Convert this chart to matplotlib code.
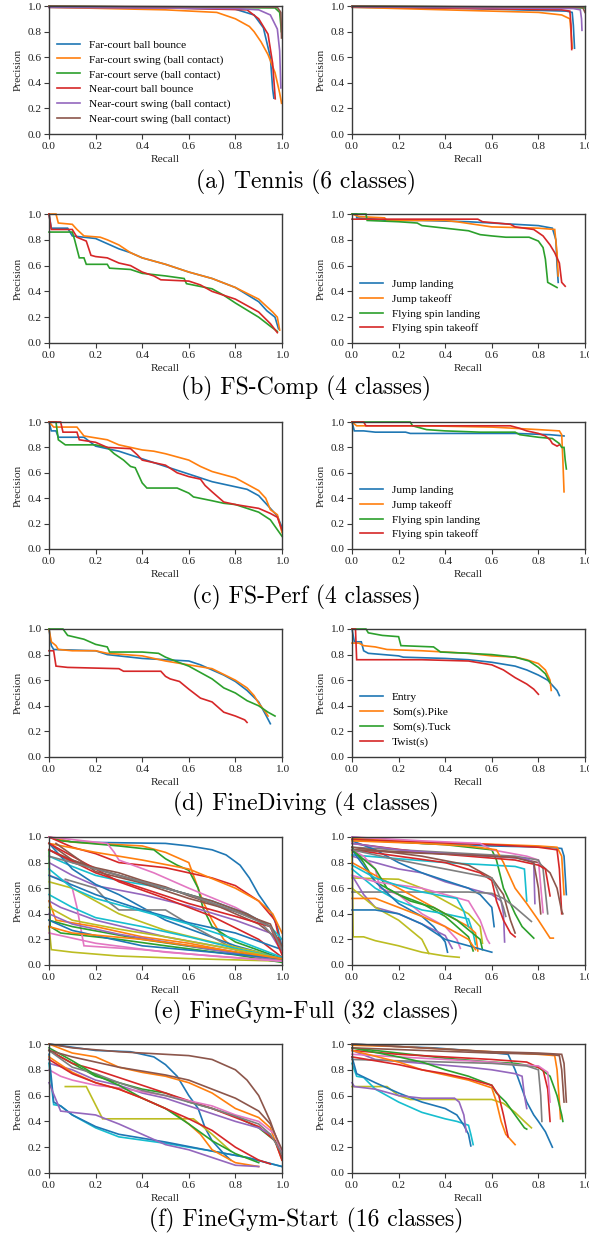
import matplotlib
matplotlib.use("Agg")
import matplotlib.pyplot as plt

TAB10 = ['#1f77b4', '#ff7f0e', '#2ca02c', '#d62728', '#9467bd',
         '#8c564b', '#e377c2', '#7f7f7f', '#bcbd22', '#17becf']

TENNIS_LABELS = ["Far-court ball bounce", "Far-court swing (ball contact)",
                 "Far-court serve (ball contact)", "Near-court ball bounce",
                 "Near-court swing (ball contact)", "Near-court swing (ball contact)"]
FS_LABELS = ["Jump landing", "Jump takeoff", "Flying spin landing", "Flying spin takeoff"]
DIVE_LABELS = ["Entry", "Som(s).Pike", "Som(s).Tuck", "Twist(s)"]

CAPTIONS = ["(a) Tennis (6 classes)", "(b) FS-Comp (4 classes)", "(c) FS-Perf (4 classes)",
            "(d) FineDiving (4 classes)", "(e) FineGym-Full (32 classes)",
            "(f) FineGym-Start (16 classes)"]

# ---------------- (a) Tennis ----------------
TENNIS_L = [
    [(0,0.99),(0.5,0.985),(0.8,0.975),(0.88,0.93),(0.92,0.83),(0.95,0.6),(0.96,0.35),(0.965,0.28)],
    [(0,0.99),(0.5,0.97),(0.72,0.95),(0.8,0.9),(0.86,0.84),(0.88,0.8),(0.91,0.72),(0.94,0.62),(0.97,0.48),(0.99,0.32),(0.998,0.24)],
    [(0,1.0),(0.5,0.99),(0.97,0.985),(0.99,0.95),(0.995,0.85),(0.997,0.8)],
    [(0,0.99),(0.5,0.985),(0.85,0.97),(0.9,0.9),(0.94,0.78),(0.96,0.55),(0.97,0.3),(0.971,0.275)],
    [(0,0.99),(0.8,0.98),(0.9,0.97),(0.95,0.93),(0.98,0.82),(0.99,0.65),(0.995,0.36)],
    [(0,1.0),(0.98,0.99),(0.995,0.95),(0.998,0.75)],
]
TENNIS_R = [
    [(0,0.99),(0.5,0.98),(0.92,0.96),(0.945,0.95),(0.95,0.85),(0.955,0.67)],
    [(0,0.99),(0.3,0.975),(0.6,0.96),(0.8,0.95),(0.9,0.93),(0.935,0.9),(0.94,0.8),(0.945,0.67)],
    [(0,1.0),(0.99,0.985),(1.0,0.985)],
    [(0,0.995),(0.9,0.97),(0.935,0.96),(0.94,0.85),(0.943,0.66)],
    [(0,0.995),(0.95,0.98),(0.98,0.97),(0.985,0.9),(0.987,0.81)],
    [(0,1.0),(0.99,0.99),(1.0,0.95)],
]
# ---------------- (b) FS-Comp ----------------
FSCOMP_L = [
    [(0,1.0),(0.01,0.89),(0.08,0.89),(0.1,0.83),(0.2,0.81),(0.25,0.77),(0.3,0.73),(0.35,0.7),(0.4,0.66),(0.5,0.61),(0.6,0.55),(0.7,0.5),(0.8,0.43),(0.9,0.32),(0.935,0.25),(0.97,0.2),(0.985,0.11)],
    [(0,1.0),(0.03,1.0),(0.04,0.93),(0.1,0.92),(0.12,0.88),(0.15,0.83),(0.22,0.82),(0.25,0.8),(0.3,0.76),(0.35,0.7),(0.4,0.66),(0.5,0.61),(0.6,0.55),(0.7,0.5),(0.8,0.43),(0.9,0.34),(0.96,0.24),(0.98,0.2),(0.99,0.1)],
    [(0,0.86),(0.1,0.86),(0.11,0.8),(0.13,0.66),(0.15,0.66),(0.16,0.61),(0.25,0.61),(0.26,0.58),(0.35,0.57),(0.4,0.54),(0.5,0.52),(0.58,0.5),(0.59,0.46),(0.7,0.42),(0.75,0.37),(0.8,0.31),(0.9,0.2),(0.95,0.13),(0.98,0.09)],
    [(0,1.0),(0.01,0.88),(0.1,0.88),(0.12,0.82),(0.16,0.79),(0.18,0.68),(0.2,0.67),(0.25,0.66),(0.3,0.62),(0.35,0.6),(0.4,0.55),(0.45,0.52),(0.48,0.49),(0.6,0.48),(0.65,0.45),(0.7,0.4),(0.8,0.34),(0.9,0.24),(0.95,0.15),(0.98,0.08)],
]
FSCOMP_R = [
    [(0,1.0),(0.02,1.0),(0.02,0.97),(0.1,0.96),(0.15,0.95),(0.3,0.95),(0.5,0.94),(0.6,0.93),(0.7,0.92),(0.8,0.91),(0.86,0.89),(0.875,0.8),(0.88,0.6),(0.885,0.47)],
    [(0,1.0),(0.03,0.98),(0.14,0.97),(0.15,0.95),(0.4,0.95),(0.45,0.94),(0.6,0.9),(0.8,0.89),(0.87,0.88),(0.88,0.7),(0.885,0.52)],
    [(0,1.0),(0.06,1.0),(0.065,0.95),(0.2,0.94),(0.28,0.93),(0.3,0.91),(0.4,0.89),(0.5,0.87),(0.55,0.84),(0.6,0.83),(0.66,0.82),(0.76,0.82),(0.8,0.79),(0.82,0.74),(0.83,0.65),(0.84,0.47),(0.86,0.45),(0.88,0.43)],
    [(0,0.96),(0.54,0.96),(0.56,0.94),(0.68,0.92),(0.7,0.9),(0.78,0.88),(0.82,0.83),(0.85,0.76),(0.87,0.7),(0.89,0.62),(0.9,0.47),(0.915,0.44)],
]
# ---------------- (c) FS-Perf ----------------
FSPERF_L = [
    [(0,1.0),(0.01,0.93),(0.03,0.93),(0.04,0.88),(0.15,0.88),(0.2,0.81),(0.3,0.77),(0.35,0.74),(0.4,0.71),(0.5,0.65),(0.55,0.62),(0.6,0.59),(0.7,0.53),(0.8,0.49),(0.85,0.47),(0.9,0.42),(0.95,0.32),(0.98,0.26),(1.0,0.17)],
    [(0,1.0),(0.02,0.96),(0.12,0.96),(0.15,0.89),(0.25,0.86),(0.3,0.82),(0.35,0.8),(0.4,0.78),(0.45,0.77),(0.5,0.75),(0.6,0.7),(0.65,0.65),(0.7,0.61),(0.8,0.56),(0.85,0.51),(0.9,0.46),(0.93,0.4),(0.95,0.31),(0.98,0.27),(1.0,0.13)],
    [(0,1.0),(0.03,1.0),(0.04,0.86),(0.07,0.82),(0.2,0.82),(0.25,0.8),(0.28,0.75),(0.32,0.7),(0.35,0.65),(0.37,0.64),(0.4,0.52),(0.42,0.48),(0.55,0.48),(0.6,0.44),(0.62,0.41),(0.7,0.38),(0.75,0.36),(0.8,0.35),(0.9,0.29),(0.95,0.23),(1.0,0.1)],
    [(0,1.0),(0.05,1.0),(0.06,0.92),(0.12,0.92),(0.13,0.86),(0.2,0.84),(0.25,0.8),(0.35,0.79),(0.38,0.74),(0.4,0.7),(0.45,0.68),(0.5,0.66),(0.55,0.6),(0.6,0.57),(0.65,0.55),(0.67,0.5),(0.7,0.45),(0.75,0.37),(0.8,0.35),(0.9,0.32),(0.95,0.28),(0.98,0.25),(1.0,0.15)],
]
FSPERF_R = [
    [(0,1.0),(0.01,0.93),(0.05,0.93),(0.1,0.92),(0.23,0.92),(0.25,0.91),(0.5,0.91),(0.7,0.91),(0.85,0.9),(0.91,0.89)],
    [(0,1.0),(0.02,0.97),(0.05,0.97),(0.3,0.97),(0.6,0.96),(0.7,0.95),(0.8,0.94),(0.89,0.93),(0.9,0.9),(0.905,0.7),(0.91,0.45)],
    [(0,1.0),(0.25,1.0),(0.26,0.97),(0.32,0.94),(0.4,0.93),(0.55,0.92),(0.7,0.92),(0.72,0.9),(0.8,0.88),(0.86,0.87),(0.89,0.83),(0.9,0.8),(0.91,0.8),(0.915,0.7),(0.92,0.63)],
    [(0,1.0),(0.05,1.0),(0.06,0.97),(0.3,0.97),(0.68,0.97),(0.72,0.95),(0.75,0.93),(0.8,0.91),(0.83,0.89),(0.85,0.86),(0.86,0.83),(0.88,0.81),(0.89,0.82)],
]
# ---------------- (d) FineDiving ----------------
DIVE_L = [
    [(0,1.0),(0.01,0.87),(0.02,0.84),(0.2,0.83),(0.25,0.8),(0.4,0.77),(0.5,0.76),(0.6,0.75),(0.65,0.72),(0.7,0.68),(0.75,0.64),(0.8,0.59),(0.85,0.52),(0.9,0.43),(0.93,0.33),(0.95,0.26)],
    [(0,1.0),(0.01,0.9),(0.03,0.87),(0.04,0.84),(0.1,0.83),(0.2,0.83),(0.25,0.81),(0.4,0.79),(0.5,0.75),(0.6,0.72),(0.7,0.69),(0.8,0.6),(0.85,0.54),(0.88,0.48),(0.9,0.42),(0.93,0.35),(0.94,0.32)],
    [(0,1.0),(0.06,1.0),(0.08,0.95),(0.15,0.92),(0.2,0.88),(0.25,0.86),(0.26,0.82),(0.4,0.82),(0.47,0.81),(0.5,0.78),(0.57,0.73),(0.6,0.71),(0.65,0.66),(0.7,0.61),(0.75,0.54),(0.8,0.5),(0.85,0.44),(0.9,0.4),(0.94,0.35),(0.97,0.32)],
    [(0,0.83),(0.02,0.83),(0.03,0.71),(0.08,0.7),(0.3,0.69),(0.32,0.67),(0.48,0.67),(0.5,0.63),(0.52,0.61),(0.56,0.59),(0.6,0.53),(0.65,0.46),(0.7,0.43),(0.75,0.35),(0.8,0.32),(0.84,0.29),(0.85,0.27)],
]
DIVE_R = [
    [(0,1.0),(0.01,0.9),(0.04,0.9),(0.05,0.83),(0.07,0.81),(0.2,0.79),(0.22,0.78),(0.4,0.77),(0.5,0.76),(0.6,0.74),(0.7,0.71),(0.75,0.68),(0.8,0.64),(0.84,0.6),(0.86,0.56),(0.88,0.52),(0.89,0.48)],
    [(0,0.89),(0.03,0.89),(0.05,0.87),(0.1,0.86),(0.15,0.84),(0.3,0.83),(0.4,0.82),(0.5,0.81),(0.6,0.79),(0.7,0.78),(0.75,0.76),(0.8,0.73),(0.83,0.68),(0.85,0.6),(0.855,0.52)],
    [(0,1.0),(0.06,1.0),(0.07,0.97),(0.13,0.95),(0.2,0.94),(0.21,0.87),(0.35,0.86),(0.38,0.82),(0.5,0.81),(0.6,0.8),(0.7,0.78),(0.76,0.75),(0.8,0.7),(0.83,0.65),(0.85,0.58)],
    [(0,1.0),(0.015,1.0),(0.02,0.76),(0.3,0.76),(0.5,0.75),(0.6,0.72),(0.65,0.68),(0.7,0.62),(0.75,0.57),(0.78,0.53),(0.8,0.49)],
]
# ---------------- (e) FineGym-Full (32 classes) ----------------
GYMFULL_L = [
    [(0,1.0),(0.1,0.96),(0.3,0.955),(0.5,0.95),(0.6,0.93),(0.7,0.9),(0.76,0.86),(0.82,0.78),(0.86,0.68),(0.9,0.55),(0.95,0.42),(0.98,0.3),(1.0,0.14)],
    [(0,1.0),(0.1,0.96),(0.4,0.93),(0.5,0.88),(0.6,0.8),(0.63,0.65),(0.66,0.5),(0.7,0.35),(0.75,0.2),(0.8,0.12),(1.0,0.05)],
    [(0,1.0),(0.05,0.97),(0.3,0.93),(0.45,0.9),(0.5,0.83),(0.55,0.78),(0.6,0.74),(0.64,0.6),(0.66,0.45),(0.7,0.3),(0.8,0.18),(1.0,0.05)],
    [(0,1.0),(0.1,0.92),(0.2,0.87),(0.3,0.8),(0.5,0.76),(0.7,0.68),(0.8,0.62),(0.9,0.5),(0.97,0.35),(1.0,0.1)],
    [(0,0.8),(0.1,0.7),(0.2,0.62),(0.4,0.55),(0.6,0.46),(0.8,0.35),(0.95,0.25),(1.0,0.1)],
    [(0,0.95),(0.1,0.82),(0.2,0.76),(0.3,0.72),(0.4,0.66),(0.5,0.61),(0.6,0.54),(0.7,0.48),(0.8,0.4),(0.9,0.32),(0.97,0.22),(1.0,0.1)],
    [(0,1.0),(0.1,0.98),(0.2,0.96),(0.25,0.95),(0.28,0.88),(0.3,0.82),(0.45,0.72),(0.6,0.6),(0.8,0.45),(0.95,0.3),(1.0,0.1)],
    [(0,0.9),(0.1,0.8),(0.2,0.75),(0.4,0.65),(0.6,0.55),(0.75,0.45),(0.9,0.35),(1.0,0.15)],
    [(0,0.3),(0.01,0.12),(0.1,0.1),(0.3,0.07),(0.6,0.05),(1.0,0.03)],
    [(0,0.85),(0.1,0.77),(0.2,0.7),(0.3,0.66),(0.5,0.6),(0.7,0.5),(0.85,0.4),(0.95,0.3),(1.0,0.2)],
    [(0,0.95),(0.1,0.75),(0.2,0.63),(0.3,0.55),(0.4,0.45),(0.5,0.35),(0.65,0.25),(0.8,0.15),(1.0,0.05)],
    [(0,0.95),(0.2,0.88),(0.4,0.82),(0.6,0.75),(0.8,0.6),(0.9,0.5),(0.96,0.4),(1.0,0.25)],
    [(0,0.9),(0.005,0.3),(0.05,0.25),(0.3,0.2),(0.5,0.15),(0.8,0.08),(1.0,0.02)],
    [(0,0.95),(0.15,0.8),(0.3,0.65),(0.5,0.52),(0.7,0.38),(0.9,0.2),(1.0,0.06)],
    [(0,0.5),(0.05,0.45),(0.2,0.35),(0.5,0.22),(0.8,0.12),(1.0,0.04)],
    [(0,0.9),(0.15,0.78),(0.3,0.7),(0.5,0.6),(0.7,0.5),(0.85,0.4),(0.95,0.3),(1.0,0.15)],
    [(0,0.7),(0.08,0.65),(0.1,0.6),(0.12,0.45),(0.14,0.25),(0.15,0.15),(0.4,0.12),(0.7,0.07),(1.0,0.03)],
    [(0.07,0.67),(0.2,0.6),(0.25,0.5),(0.3,0.43),(0.5,0.43),(0.6,0.32),(0.7,0.22),(0.8,0.12),(1.0,0.05)],
    [(0,0.65),(0.1,0.6),(0.2,0.5),(0.3,0.4),(0.5,0.27),(0.7,0.18),(0.9,0.1),(1.0,0.04)],
    [(0,0.55),(0.1,0.45),(0.2,0.37),(0.4,0.3),(0.6,0.22),(0.8,0.13),(1.0,0.05)],
    [(0,0.7),(0.2,0.55),(0.4,0.43),(0.6,0.33),(0.8,0.25),(1.0,0.12)],
    [(0,0.5),(0.03,0.35),(0.2,0.3),(0.4,0.22),(0.6,0.17),(0.8,0.1),(1.0,0.04)],
    [(0,0.35),(0.1,0.3),(0.4,0.2),(0.7,0.12),(1.0,0.05)],
    [(0,0.9),(0.2,0.72),(0.4,0.6),(0.6,0.48),(0.8,0.38),(0.95,0.3),(1.0,0.08)],
    [(0,0.4),(0.1,0.32),(0.3,0.24),(0.6,0.15),(1.0,0.03)],
    [(0.03,0.95),(0.2,0.73),(0.4,0.64),(0.6,0.52),(0.8,0.42),(0.95,0.32),(1.0,0.12)],
    [(0,0.25),(0.2,0.17),(0.5,0.1),(1.0,0.03)],
    [(0,0.85),(0.3,0.7),(0.6,0.55),(0.8,0.42),(0.95,0.3),(1.0,0.12)],
    [(0,0.45),(0.1,0.35),(0.3,0.28),(0.5,0.22),(0.8,0.12),(1.0,0.05)],
    [(0,0.75),(0.1,0.6),(0.2,0.52),(0.4,0.42),(0.6,0.32),(0.8,0.2),(1.0,0.06)],
    [(0,0.35),(0.1,0.27),(0.4,0.15),(1.0,0.05)],
    [(0,0.3),(0.1,0.25),(0.4,0.2),(0.7,0.13),(1.0,0.05)],
]
GYMFULL_R = [
    [(0,1.0),(0.3,0.95),(0.6,0.93),(0.85,0.92),(0.9,0.91),(0.91,0.85),(0.92,0.55)],
    [(0,0.99),(0.2,0.97),(0.5,0.95),(0.8,0.93),(0.88,0.92),(0.9,0.85),(0.91,0.55)],
    [(0,0.98),(0.2,0.96),(0.4,0.94),(0.6,0.9),(0.62,0.82),(0.65,0.6),(0.7,0.4),(0.73,0.3),(0.78,0.21)],
    [(0,0.98),(0.3,0.96),(0.6,0.94),(0.8,0.92),(0.88,0.9),(0.89,0.75),(0.9,0.4)],
    [(0,0.85),(0.1,0.8),(0.2,0.75),(0.3,0.72),(0.4,0.65),(0.5,0.6),(0.6,0.55),(0.64,0.5),(0.65,0.4),(0.655,0.18)],
    [(0,0.9),(0.3,0.88),(0.5,0.86),(0.7,0.84),(0.8,0.8),(0.85,0.72),(0.88,0.6),(0.9,0.42),(0.905,0.4)],
    [(0,1.0),(0.3,0.97),(0.55,0.95),(0.6,0.9),(0.75,0.85),(0.8,0.82),(0.82,0.41)],
    [(0,0.92),(0.2,0.9),(0.5,0.87),(0.7,0.85),(0.8,0.82),(0.82,0.75),(0.84,0.4)],
    [(0,0.9),(0.005,0.22),(0.05,0.22),(0.1,0.19),(0.2,0.15),(0.3,0.1),(0.4,0.07),(0.46,0.06)],
    [(0,0.86),(0.2,0.83),(0.4,0.8),(0.6,0.78),(0.7,0.77),(0.74,0.75),(0.75,0.5)],
    [(0,0.97),(0.1,0.9),(0.2,0.8),(0.3,0.72),(0.4,0.66),(0.5,0.6),(0.55,0.55),(0.6,0.45),(0.61,0.3)],
    [(0,0.97),(0.3,0.95),(0.5,0.93),(0.62,0.9),(0.65,0.8),(0.7,0.6),(0.75,0.48),(0.8,0.35),(0.85,0.21),(0.864,0.21)],
    [(0,0.92),(0.05,0.8),(0.1,0.65),(0.2,0.55),(0.3,0.48),(0.4,0.38),(0.5,0.22),(0.52,0.11)],
    [(0,0.95),(0.3,0.88),(0.5,0.85),(0.7,0.82),(0.8,0.78),(0.83,0.75),(0.85,0.54)],
    [(0,0.95),(0.2,0.9),(0.4,0.87),(0.6,0.85),(0.75,0.83),(0.78,0.8),(0.785,0.48)],
    [(0,0.92),(0.3,0.85),(0.5,0.78),(0.6,0.68),(0.65,0.55),(0.68,0.35),(0.7,0.25)],
    [(0,0.9),(0.05,0.85),(0.1,0.75),(0.12,0.6),(0.2,0.55),(0.3,0.4),(0.4,0.3),(0.45,0.2),(0.465,0.13)],
    [(0,0.57),(0.3,0.57),(0.5,0.57),(0.6,0.56),(0.65,0.52),(0.7,0.45),(0.77,0.34)],
    [(0,0.68),(0.2,0.67),(0.3,0.6),(0.4,0.5),(0.5,0.4),(0.55,0.3),(0.56,0.17)],
    [(0,0.75),(0.1,0.6),(0.2,0.5),(0.3,0.43),(0.4,0.4),(0.5,0.36),(0.52,0.25),(0.53,0.16)],
    [(0,0.9),(0.1,0.65),(0.2,0.48),(0.3,0.38),(0.35,0.3),(0.4,0.18),(0.41,0.1)],
    [(0,0.8),(0.1,0.7),(0.2,0.6),(0.3,0.5),(0.4,0.4),(0.5,0.3),(0.53,0.25),(0.54,0.11)],
    [(0,0.9),(0.1,0.75),(0.15,0.6),(0.25,0.5),(0.35,0.45),(0.45,0.35),(0.55,0.2),(0.56,0.12)],
    [(0,0.9),(0.2,0.85),(0.4,0.8),(0.55,0.72),(0.6,0.66),(0.62,0.5),(0.65,0.35),(0.68,0.25),(0.7,0.22)],
    [(0,0.7),(0.05,0.55),(0.1,0.45),(0.2,0.4),(0.3,0.32),(0.4,0.23),(0.43,0.13)],
    [(0,0.9),(0.2,0.88),(0.5,0.86),(0.7,0.84),(0.78,0.8),(0.8,0.6),(0.81,0.4)],
    [(0,0.7),(0.1,0.65),(0.3,0.6),(0.5,0.5),(0.55,0.35),(0.58,0.2),(0.59,0.17)],
    [(0,0.9),(0.2,0.82),(0.4,0.75),(0.6,0.68),(0.62,0.6),(0.65,0.45),(0.66,0.38)],
    [(0,0.6),(0.1,0.45),(0.2,0.35),(0.3,0.2),(0.33,0.09)],
    [(0,0.78),(0.1,0.68),(0.2,0.62),(0.3,0.57),(0.45,0.52),(0.48,0.42),(0.5,0.3)],
    [(0,0.43),(0.1,0.43),(0.2,0.4),(0.3,0.32),(0.4,0.2),(0.6,0.1)],
    [(0,0.52),(0.1,0.52),(0.2,0.45),(0.3,0.38),(0.4,0.3),(0.5,0.2),(0.53,0.12)],
]
# ---------------- (f) FineGym-Start (16 classes) ----------------
GYMSTART_L = [
    [(0,1.0),(0.2,0.95),(0.35,0.94),(0.45,0.9),(0.5,0.84),(0.55,0.75),(0.58,0.66),(0.6,0.6),(0.64,0.5),(0.67,0.35),(0.7,0.25),(0.75,0.15),(0.78,0.1)],
    [(0,1.0),(0.1,0.93),(0.2,0.9),(0.3,0.82),(0.4,0.78),(0.5,0.75),(0.6,0.7),(0.7,0.62),(0.8,0.5),(0.9,0.43),(0.95,0.35),(1.0,0.1)],
    [(0,0.95),(0.1,0.85),(0.2,0.75),(0.3,0.7),(0.4,0.65),(0.5,0.62),(0.6,0.55),(0.7,0.5),(0.8,0.44),(0.9,0.35),(0.97,0.25),(1.0,0.12)],
    [(0,0.95),(0.1,0.85),(0.2,0.8),(0.3,0.74),(0.4,0.68),(0.5,0.62),(0.6,0.56),(0.7,0.5),(0.8,0.43),(0.9,0.36),(0.97,0.25),(1.0,0.1)],
    [(0,0.85),(0.1,0.8),(0.2,0.72),(0.3,0.68),(0.4,0.62),(0.5,0.58),(0.6,0.52),(0.7,0.46),(0.8,0.4),(0.9,0.35),(0.95,0.3)],
    [(0,1.0),(0.1,0.97),(0.3,0.94),(0.5,0.92),(0.6,0.91),(0.7,0.88),(0.8,0.8),(0.85,0.72),(0.9,0.6),(0.95,0.4),(0.98,0.25),(1.0,0.12)],
    [(0,0.8),(0.05,0.75),(0.1,0.72),(0.2,0.68),(0.3,0.66),(0.4,0.63),(0.5,0.6),(0.6,0.56),(0.7,0.52),(0.8,0.45),(0.9,0.4),(0.97,0.3),(1.0,0.15)],
    [(0,0.95),(0.1,0.82),(0.2,0.77),(0.3,0.7),(0.4,0.64),(0.5,0.6),(0.6,0.55),(0.7,0.5),(0.8,0.44),(0.9,0.38),(0.95,0.3),(1.0,0.15)],
    [(0.07,0.67),(0.16,0.67),(0.23,0.42),(0.5,0.42),(0.62,0.42),(0.7,0.3),(0.78,0.17)],
    [(0,0.85),(0.02,0.53),(0.05,0.52),(0.1,0.45),(0.2,0.35),(0.3,0.28),(0.5,0.23),(0.7,0.17),(0.85,0.12),(1.0,0.05)],
    [(0,0.92),(0.02,0.55),(0.05,0.52),(0.1,0.45),(0.2,0.36),(0.3,0.3),(0.5,0.24),(0.7,0.17),(0.85,0.12),(1.0,0.05)],
    [(0,0.9),(0.1,0.78),(0.2,0.7),(0.3,0.65),(0.4,0.58),(0.5,0.5),(0.55,0.45),(0.6,0.38),(0.65,0.3),(0.7,0.18),(0.8,0.08),(0.9,0.05)],
    [(0,0.97),(0.1,0.87),(0.2,0.76),(0.3,0.68),(0.4,0.58),(0.5,0.5),(0.6,0.38),(0.7,0.25),(0.8,0.15),(0.9,0.08)],
    [(0,0.88),(0.1,0.77),(0.2,0.7),(0.3,0.65),(0.4,0.58),(0.5,0.5),(0.6,0.42),(0.7,0.33),(0.8,0.2),(0.9,0.1),(0.95,0.07)],
    [(0,0.7),(0.05,0.48),(0.1,0.47),(0.2,0.45),(0.3,0.38),(0.4,0.3),(0.5,0.22),(0.6,0.18),(0.7,0.12),(0.8,0.06),(0.9,0.05)],
    [(0,0.95),(0.1,0.9),(0.2,0.86),(0.3,0.82),(0.4,0.79),(0.5,0.76),(0.6,0.72),(0.7,0.65),(0.8,0.58),(0.9,0.48),(0.95,0.38),(1.0,0.18)],
]
GYMSTART_R = [
    [(0,1.0),(0.2,0.98),(0.35,0.97),(0.5,0.95),(0.67,0.92),(0.7,0.8),(0.72,0.7),(0.75,0.55),(0.78,0.45),(0.8,0.4),(0.83,0.32),(0.86,0.2)],
    [(0,0.99),(0.2,0.98),(0.4,0.96),(0.6,0.94),(0.8,0.92),(0.87,0.91),(0.88,0.8),(0.89,0.55),(0.895,0.42)],
    [(0,0.97),(0.2,0.93),(0.4,0.89),(0.6,0.86),(0.7,0.85),(0.8,0.82),(0.85,0.75),(0.88,0.6),(0.9,0.45),(0.905,0.4)],
    [(0,0.95),(0.2,0.92),(0.4,0.9),(0.6,0.88),(0.75,0.86),(0.82,0.8),(0.84,0.65),(0.85,0.4)],
    [(0,0.95),(0.1,0.88),(0.3,0.85),(0.5,0.82),(0.6,0.8),(0.7,0.77),(0.73,0.75),(0.74,0.6),(0.75,0.5)],
    [(0,1.0),(0.3,0.97),(0.6,0.94),(0.8,0.93),(0.9,0.92),(0.91,0.85),(0.92,0.55)],
    [(0,0.92),(0.2,0.9),(0.4,0.88),(0.6,0.86),(0.7,0.84),(0.8,0.83),(0.84,0.78),(0.85,0.55)],
    [(0,0.88),(0.2,0.87),(0.4,0.86),(0.6,0.85),(0.75,0.83),(0.8,0.8),(0.81,0.6),(0.815,0.4)],
    [(0,0.67),(0.15,0.67),(0.2,0.6),(0.25,0.57),(0.6,0.57),(0.65,0.54),(0.7,0.47),(0.74,0.4),(0.77,0.35)],
    [(0,0.85),(0.02,0.75),(0.05,0.74),(0.1,0.65),(0.2,0.55),(0.3,0.47),(0.4,0.42),(0.45,0.4),(0.5,0.37),(0.51,0.3),(0.52,0.22)],
    [(0,0.9),(0.02,0.77),(0.1,0.7),(0.2,0.62),(0.3,0.55),(0.4,0.5),(0.45,0.45),(0.48,0.37),(0.5,0.3),(0.51,0.21)],
    [(0,0.95),(0.2,0.86),(0.3,0.8),(0.4,0.76),(0.5,0.72),(0.6,0.66),(0.62,0.55),(0.64,0.4),(0.66,0.3),(0.7,0.22)],
    [(0,0.97),(0.2,0.9),(0.3,0.86),(0.4,0.8),(0.5,0.75),(0.6,0.68),(0.62,0.62),(0.66,0.55),(0.7,0.45),(0.74,0.35),(0.75,0.34)],
    [(0,0.9),(0.2,0.84),(0.3,0.8),(0.4,0.77),(0.5,0.73),(0.6,0.68),(0.63,0.6),(0.65,0.45),(0.67,0.28)],
    [(0,0.7),(0.01,0.67),(0.1,0.65),(0.2,0.6),(0.3,0.58),(0.44,0.58),(0.46,0.55),(0.48,0.45),(0.49,0.32)],
    [(0,0.97),(0.3,0.95),(0.6,0.93),(0.85,0.92),(0.89,0.91),(0.9,0.8),(0.91,0.55)],
]

TICKS = [0.0, 0.2, 0.4, 0.6, 0.8, 1.0]
TICK_LABELS = ["0.0", "0.2", "0.4", "0.6", "0.8", "1.0"]

PANELS = [
    (TENNIS_L, TENNIS_R, TENNIS_LABELS, 'left'),
    (FSCOMP_L, FSCOMP_R, FS_LABELS, 'right'),
    (FSPERF_L, FSPERF_R, FS_LABELS, 'right'),
    (DIVE_L, DIVE_R, DIVE_LABELS, 'right'),
    (GYMFULL_L, GYMFULL_R, None, None),
    (GYMSTART_L, GYMSTART_R, None, None),
]
ROW_TOPS = [6, 214, 422, 629, 837, 1044]
ROW_BOTS = [134, 343, 549, 757, 965, 1173]
CAP_Y = [182, 388, 597, 804, 1012, 1220]

W, H = 589, 1237
SERIF = ['Liberation Serif', 'DejaVu Serif']
FS = 8.2
fig = plt.figure(figsize=(W / 100, H / 100), dpi=100)
SPINE = '#3a3a3a'


def style_axes(ax):
    ax.set_xlim(0, 1)
    ax.set_ylim(0, 1)
    ax.set_xticks(TICKS)
    ax.set_yticks(TICKS)
    ax.set_xticklabels(TICK_LABELS, family=SERIF, fontsize=FS)
    ax.set_yticklabels(TICK_LABELS, family=SERIF, fontsize=FS)
    ax.tick_params(direction='out', length=3.5, width=0.8, color=SPINE, pad=2,
                   labelcolor='#222222')
    for s in ax.spines.values():
        s.set_color(SPINE)
        s.set_linewidth(1.0)
    ax.set_xlabel("Recall", family=SERIF, fontsize=FS, labelpad=3, color='#222222')
    ax.set_ylabel("Precision", family=SERIF, fontsize=FS, labelpad=3, color='#222222')


for r, (left_data, right_data, labels, leg_side) in enumerate(PANELS):
    top, bot = ROW_TOPS[r], ROW_BOTS[r]
    for c, (data, x0) in enumerate(((left_data, 49), (right_data, 352))):
        ax = fig.add_axes([x0 / W, 1 - bot / H, 233 / W, (bot - top) / H])
        for i, curve in enumerate(data):
            xs = [p[0] for p in curve]
            ys = [p[1] for p in curve]
            lab = labels[i] if labels is not None else None
            ax.plot(xs, ys, color=TAB10[i % 10], lw=1.2, label=lab, clip_on=False,
                    solid_joinstyle='miter')
        style_axes(ax)
        if labels is not None and ((leg_side == 'left' and c == 0) or (leg_side == 'right' and c == 1)):
            ax.legend(loc='lower left', bbox_to_anchor=(0.035, 0.075), frameon=False,
                      prop={'family': SERIF, 'size': FS},
                      handlelength=2.0, labelspacing=0.42, borderaxespad=0.0,
                      handletextpad=0.8, borderpad=0.0)
    fig.text(306 / W, 1 - CAP_Y[r] / H, CAPTIONS[r], ha='center', va='center',
             family=['cmr10', 'DejaVu Serif'], fontsize=17)

fig.savefig("out.png", dpi=100)
